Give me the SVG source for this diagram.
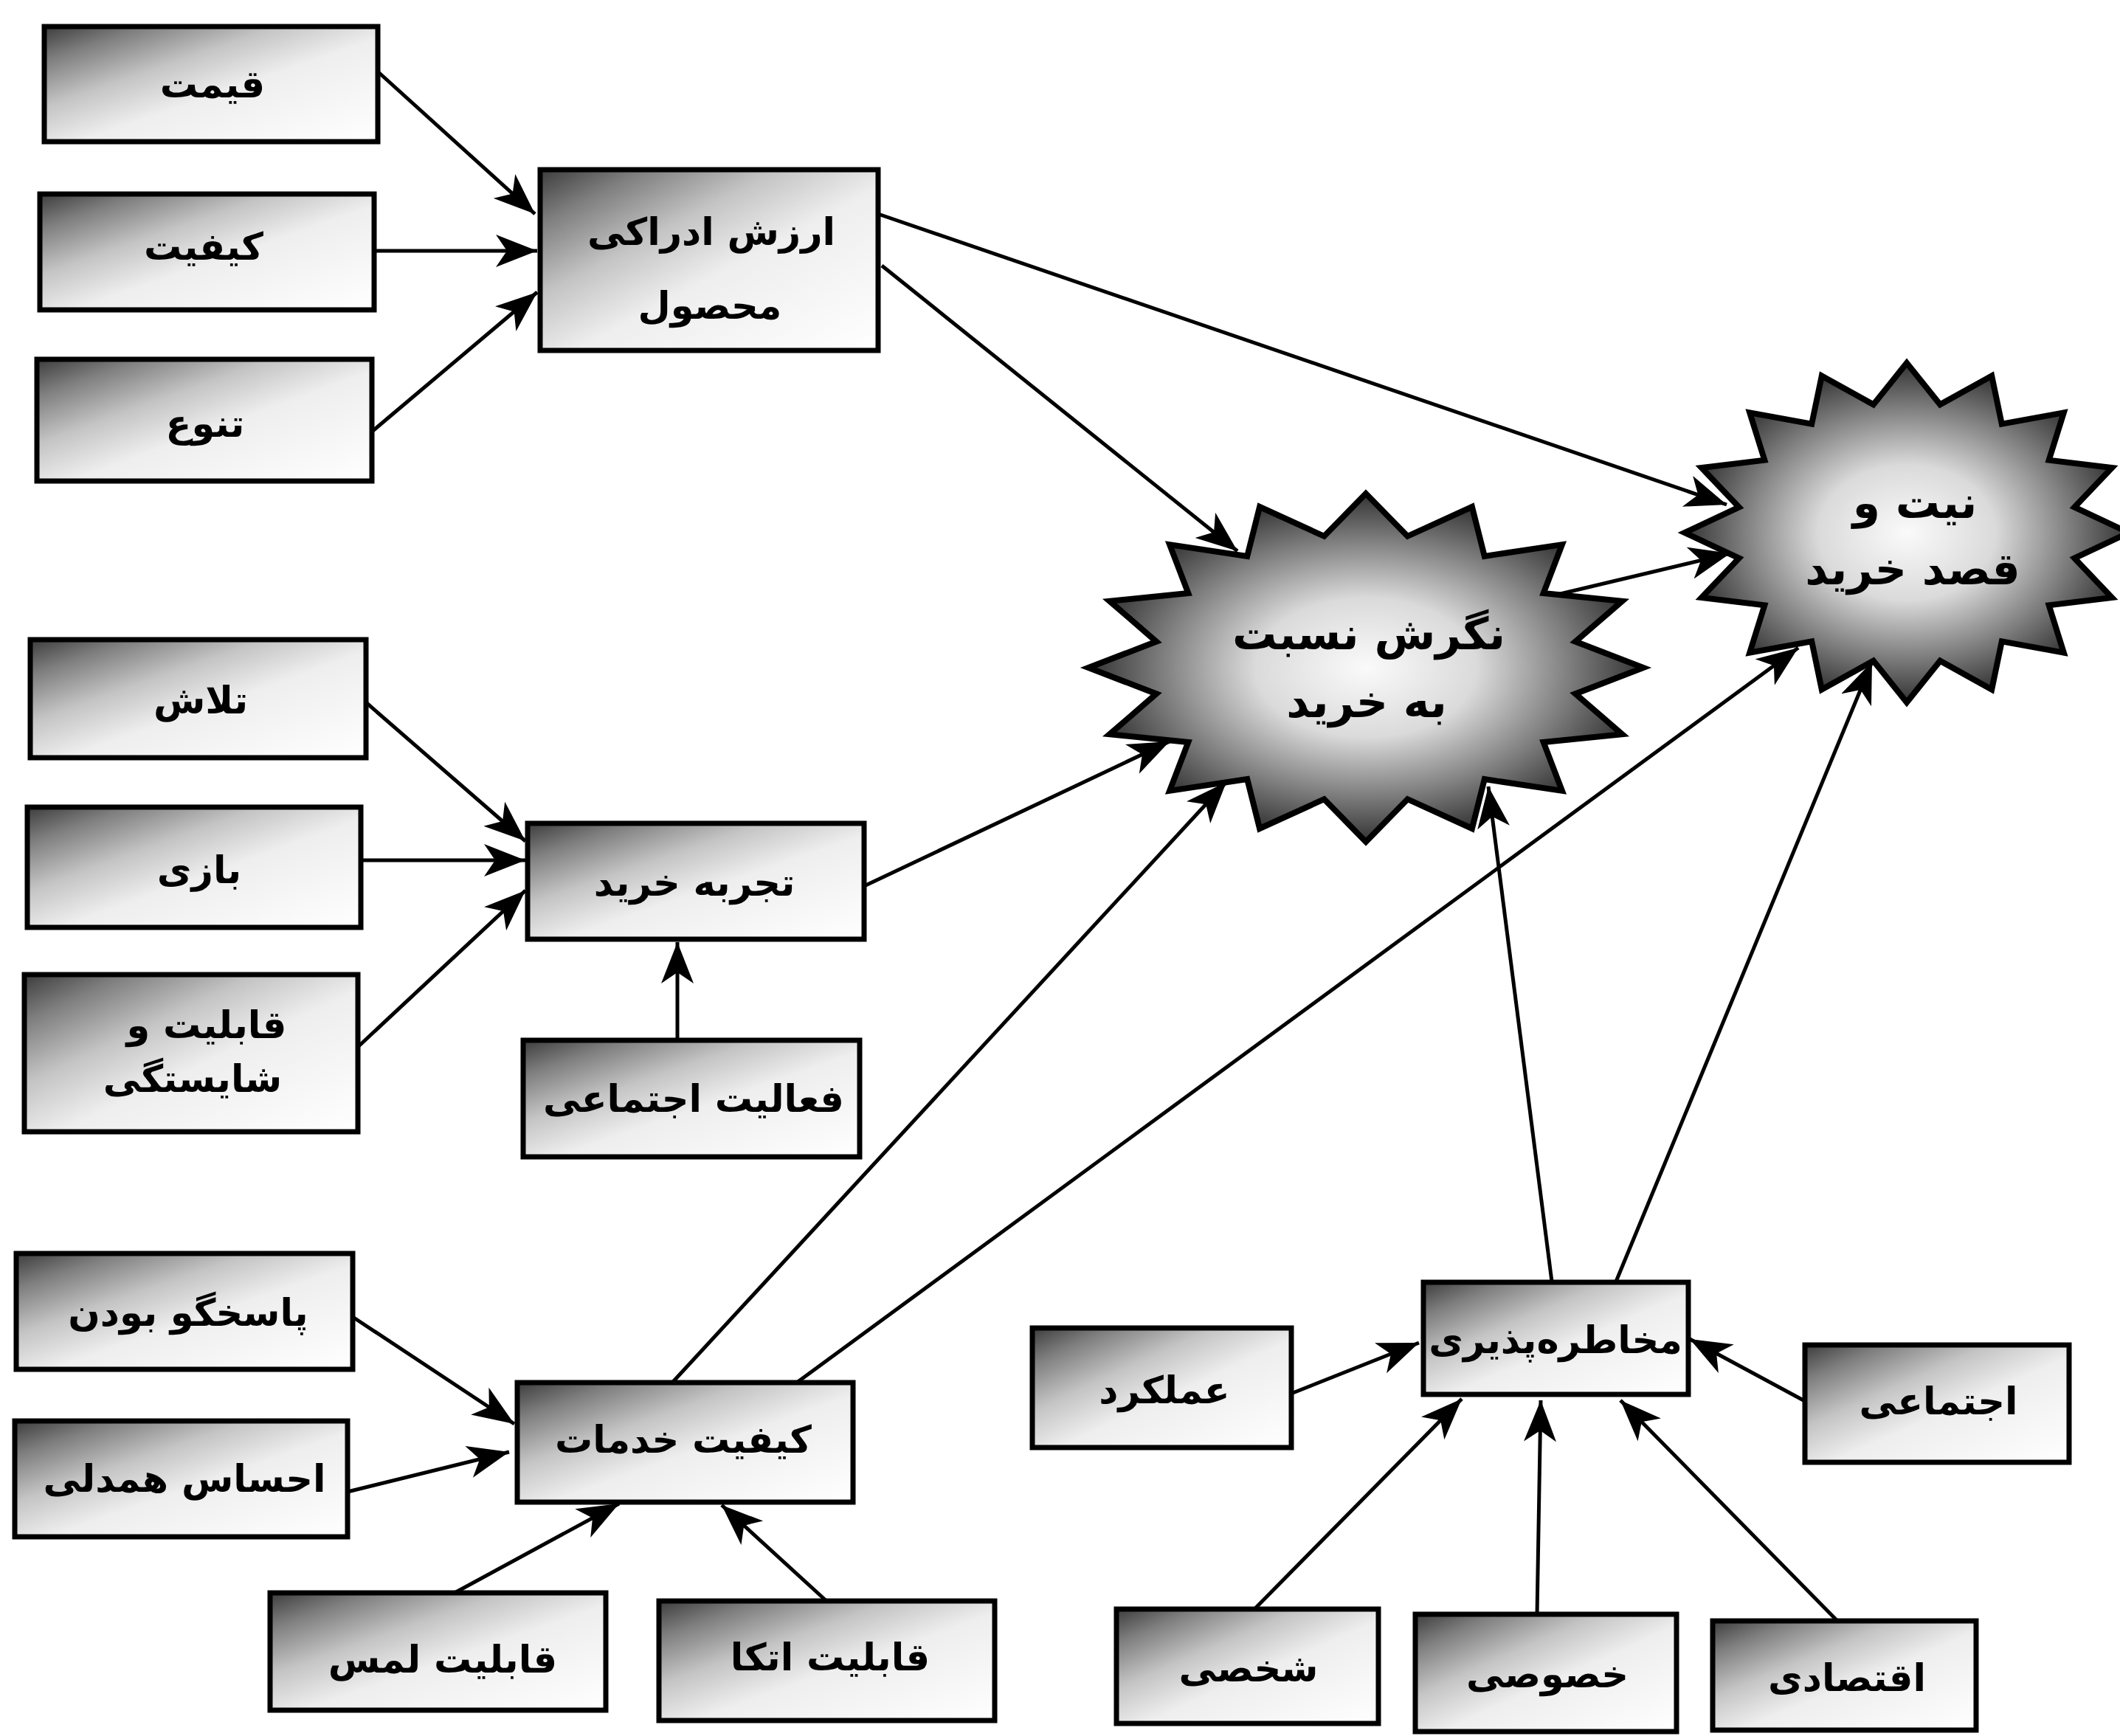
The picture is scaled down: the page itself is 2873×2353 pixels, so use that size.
<svg xmlns="http://www.w3.org/2000/svg" width="2873" height="2353" viewBox="0 0 2873 2353">
<defs>
<linearGradient id="boxfill" x1="0" y1="0" x2="1" y2="1">
<stop offset="0" stop-color="#3c3c3c"/>
<stop offset="0.15" stop-color="#7e7e7e"/>
<stop offset="0.35" stop-color="#c4c4c4"/>
<stop offset="0.55" stop-color="#eeeeee"/>
<stop offset="1" stop-color="#ffffff"/>
</linearGradient>
<radialGradient id="starfill" cx="0.5" cy="0.5" r="0.5">
<stop offset="0" stop-color="#fafafa"/>
<stop offset="0.4" stop-color="#dadada"/>
<stop offset="0.75" stop-color="#7a7a7a"/>
<stop offset="1" stop-color="#333333"/>
</radialGradient>
<marker id="arr" markerUnits="userSpaceOnUse" markerWidth="60" markerHeight="48" refX="56" refY="22" orient="auto">
<path d="M0,0 L56,22 L0,44 L15,22 Z" fill="#000"/>
</marker>
</defs>
<style>
.box{fill:url(#boxfill);stroke:#000;stroke-width:7}
.star{fill:url(#starfill);stroke:#000;stroke-width:8;stroke-linejoin:miter}
.lbl{font-family:"DejaVu Sans",sans-serif;font-size:51px;font-weight:bold;fill:#000;text-anchor:middle}
.slbl{font-family:"DejaVu Sans",sans-serif;font-size:60px;font-weight:bold;fill:#000;text-anchor:middle}
.c line{stroke:#000;stroke-width:5;marker-end:url(#arr)}
</style>
<rect width="2873" height="2353" fill="#fff"/>

<g class="c" id="connectors">
<line x1="513" y1="98" x2="725" y2="290"/>
<line x1="507" y1="340" x2="728" y2="340"/>
<line x1="504" y1="585" x2="728" y2="396"/>
<line x1="1190" y1="290" x2="2340" y2="684"/>
<line x1="1195" y1="360" x2="1677" y2="747"/>
<line x1="2110" y1="806" x2="2345" y2="750"/>
<line x1="497" y1="953" x2="712" y2="1140"/>
<line x1="490" y1="1166" x2="712" y2="1166"/>
<line x1="485" y1="1419" x2="712" y2="1207"/>
<line x1="918" y1="1410" x2="918" y2="1277"/>
<line x1="1171" y1="1201" x2="1585" y2="1005"/>
<line x1="911" y1="1874" x2="1662" y2="1060"/>
<line x1="1077" y1="1876" x2="2437" y2="878"/>
<line x1="2103" y1="1737" x2="2017" y2="1066"/>
<line x1="2190" y1="1737" x2="2537" y2="897"/>
<line x1="478" y1="1785" x2="697" y2="1930"/>
<line x1="471" y1="2022" x2="690" y2="1968"/>
<line x1="616" y1="2159" x2="839" y2="2038"/>
<line x1="1120" y1="2170" x2="978" y2="2040"/>
<line x1="1752" y1="1888" x2="1923" y2="1820"/>
<line x1="2444" y1="1898" x2="2290" y2="1815"/>
<line x1="1700" y1="2181" x2="1981" y2="1896"/>
<line x1="2083" y1="2189" x2="2088" y2="1898"/>
<line x1="2491" y1="2198" x2="2196" y2="1898"/>
</g>

<g id="n-gheymat"><rect class="box" x="60" y="36" width="452" height="156"/><text class="lbl" x="288" y="132">قیمت</text></g>
<g id="n-keyfiat"><rect class="box" x="54" y="263" width="453" height="157"/><text class="lbl" x="276" y="352">کیفیت</text></g>
<g id="n-tanavo"><rect class="box" x="50" y="487" width="454" height="165"/><text class="lbl" x="278" y="592">تنوع</text></g>
<g id="n-arzesh"><rect class="box" x="732" y="230" width="458" height="245"/><text class="lbl" x="964" y="332">ارزش ادراکی</text><text class="lbl" x="962" y="432">محصول</text></g>

<g id="n-negaresh"><polygon class="star" points="1851,669 1907.5,726.8 1994.9,687 2011.8,753.9 2116.9,738.1 2091.7,804.1 2198.4,814.7 2134.9,869.6 2227,905 2134.9,940.4 2198.4,995.3 2091.7,1005.9 2116.9,1071.9 2011.8,1056.1 1994.9,1123 1907.5,1083.2 1851,1141 1794.5,1083.2 1707.1,1123 1690.2,1056.1 1585.1,1071.9 1610.3,1005.9 1503.6,995.3 1567.1,940.4 1475,905 1567.1,869.6 1503.6,814.7 1610.3,804.1 1585.1,738.1 1690.2,753.9 1707.1,687 1794.5,726.8"/><text class="slbl" x="1855" y="880">نگرش نسبت</text><text class="slbl" x="1852" y="972">به خرید</text></g>
<g id="n-niat"><polygon class="star" points="2584,492 2629.2,548.3 2699.2,509.5 2712.8,574.7 2796.8,559.4 2776.7,623.6 2862.1,634 2811.3,687.4 2885,722 2811.3,756.6 2862.1,810 2776.7,820.4 2796.8,884.6 2712.8,869.3 2699.2,934.5 2629.2,895.7 2584,952 2538.8,895.7 2468.8,934.5 2455.2,869.3 2371.2,884.6 2391.3,820.4 2305.9,810 2356.7,756.6 2283,722 2356.7,687.4 2305.9,634 2391.3,623.6 2371.2,559.4 2455.2,574.7 2468.8,509.5 2538.8,548.3"/><text class="slbl" x="2595" y="702">نیت و</text><text class="slbl" x="2592" y="792">قصد خرید</text></g>

<g id="n-talash"><rect class="box" x="41" y="867" width="455" height="160"/><text class="lbl" x="272" y="967">تلاش</text></g>
<g id="n-bazi"><rect class="box" x="37" y="1094" width="452" height="163"/><text class="lbl" x="270" y="1197">بازی</text></g>
<g id="n-ghabeliat"><rect class="box" x="33" y="1321" width="452" height="213"/><text class="lbl" x="280" y="1407">قابلیت و</text><text class="lbl" x="261" y="1480">شایستگی</text></g>
<g id="n-tajrobe"><rect class="box" x="715" y="1116" width="456" height="157"/><text class="lbl" x="941" y="1214">تجربه خرید</text></g>
<g id="n-faaliat"><rect class="box" x="709" y="1410" width="456" height="158"/><text class="lbl" x="940" y="1507">فعالیت اجتماعی</text></g>

<g id="n-pasokhgoo"><rect class="box" x="22" y="1699" width="456" height="157"/><text class="lbl" x="255" y="1797">پاسخگو بودن</text></g>
<g id="n-ehsas"><rect class="box" x="20" y="1926" width="451" height="157"/><text class="lbl" x="250" y="2022">احساس همدلی</text></g>
<g id="n-khadamat"><rect class="box" x="701" y="1874" width="455" height="162"/><text class="lbl" x="926" y="1969">کیفیت خدمات</text></g>
<g id="n-lams"><rect class="box" x="366" y="2159" width="455" height="159"/><text class="lbl" x="600" y="2267">قابلیت لمس</text></g>
<g id="n-etka"><rect class="box" x="893" y="2170" width="455" height="162"/><text class="lbl" x="1125" y="2264">قابلیت اتکا</text></g>

<g id="n-mokhatere"><rect class="box" x="1929" y="1738" width="359" height="152"/><text class="lbl" x="2108" y="1834">مخاطره‌پذیری</text></g>
<g id="n-amalkard"><rect class="box" x="1399" y="1800" width="351" height="162"/><text class="lbl" x="1578" y="1902">عملکرد</text></g>
<g id="n-ejtemaei"><rect class="box" x="2446" y="1823" width="358" height="159"/><text class="lbl" x="2627" y="1917">اجتماعی</text></g>
<g id="n-shakhsi"><rect class="box" x="1513" y="2181" width="355" height="155"/><text class="lbl" x="1692" y="2279">شخصی</text></g>
<g id="n-khosoosi"><rect class="box" x="1918" y="2188" width="354" height="159"/><text class="lbl" x="2097" y="2287">خصوصی</text></g>
<g id="n-eghtesadi"><rect class="box" x="2321" y="2197" width="357" height="148"/><text class="lbl" x="2503" y="2292">اقتصادی</text></g>
</svg>
